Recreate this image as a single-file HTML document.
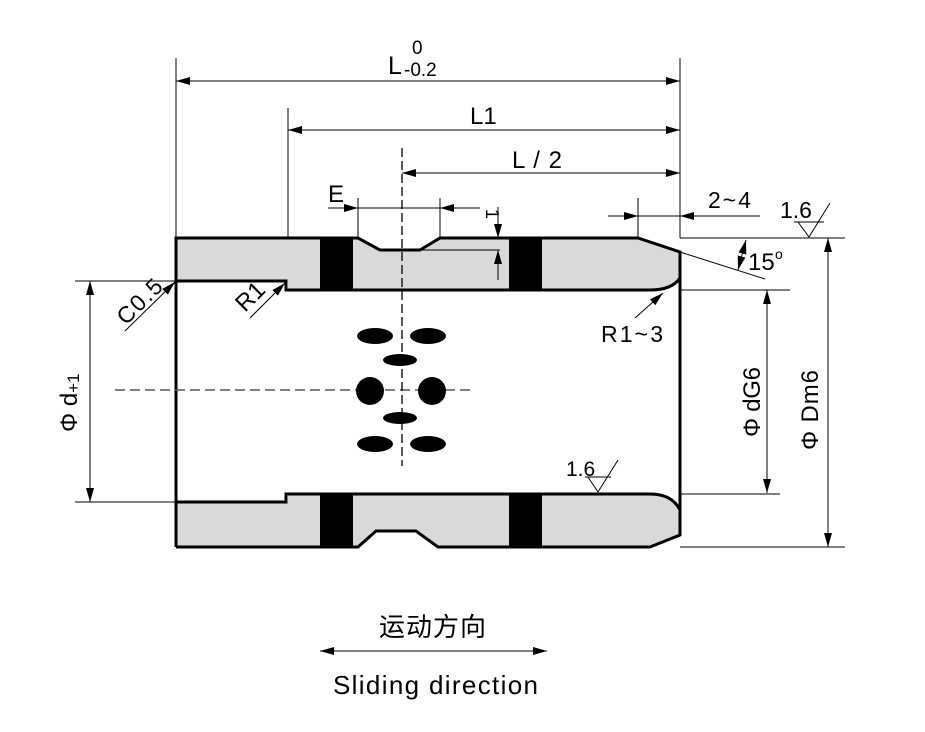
<!DOCTYPE html>
<html><head><meta charset="utf-8"><style>
html,body{margin:0;padding:0;background:#fff;}
svg{display:block;}
text{font-family:"Liberation Sans","Noto Sans CJK SC",sans-serif;fill:#000;}
</style></head><body>
<svg width="925" height="732" viewBox="0 0 925 732" xmlns="http://www.w3.org/2000/svg">
<defs>
<marker id="a" viewBox="0 0 14 8" refX="14" refY="4" markerWidth="14" markerHeight="8" orient="auto-start-reverse" markerUnits="userSpaceOnUse"><path d="M0,0L14,4L0,8z" fill="#000"/></marker>
</defs>
<path d="M176,238 L358,238 L380,250 L420,250 L440,238 L638,238 L680,252 L680,278 Q672,290 650,290 L288,290 L288,281 L176,281 Z" fill="#d9d9d9" stroke="none"/>
<path d="M176,502 L288,502 L288,494 L650,494 Q672,494 680,510 L680,535 L650,547 L438,547 L416,531 L376,531 L358,547 L176,547 Z" fill="#d9d9d9"/>
<rect x="320" y="238" width="33" height="52" fill="#000"/>
<rect x="509" y="238" width="33" height="52" fill="#000"/>
<rect x="320" y="494" width="33" height="53" fill="#000"/>
<rect x="509" y="494" width="33" height="53" fill="#000"/>
<g fill="none" stroke="#000" stroke-width="3">
<path d="M176,547 L176,238 L358,238 L380,250 L420,250 L440,238 L638,238 L680,252 L680,535 L650,547 L438,547 L416,531 L376,531 L358,547 L176,547"/>
<path d="M176,281 L286,281 L286,290 L650,290 Q672,290 680,278"/>
<path d="M176,502 L286,502 L286,494 L650,494 Q672,494 680,510"/>
</g>
<g stroke="#555" stroke-width="1.5" stroke-dasharray="10,5">
<line x1="115" y1="390" x2="470" y2="390"/>
</g>
<g stroke="#000" stroke-width="1.3" stroke-dasharray="9,4">
<line x1="402" y1="148" x2="402" y2="466"/>
</g>
<g fill="#000">
<ellipse cx="375" cy="336" rx="18" ry="8"/>
<ellipse cx="428" cy="336" rx="18" ry="8"/>
<ellipse cx="400" cy="360" rx="17" ry="6"/>
<ellipse cx="370" cy="391" rx="14" ry="14"/>
<ellipse cx="432" cy="391" rx="14" ry="14"/>
<ellipse cx="400" cy="418" rx="17" ry="6"/>
<ellipse cx="375" cy="444" rx="18" ry="8"/>
<ellipse cx="428" cy="444" rx="18" ry="8"/>
</g>
<g stroke="#000" stroke-width="1" fill="none">
<line x1="176" y1="58" x2="176" y2="238"/>
<line x1="680" y1="58" x2="680" y2="238"/>
<line x1="288" y1="108" x2="288" y2="238"/>
<line x1="176" y1="81" x2="680" y2="81" marker-start="url(#a)" marker-end="url(#a)"/>
<line x1="288" y1="130" x2="680" y2="130" marker-start="url(#a)" marker-end="url(#a)"/>
<line x1="402" y1="173" x2="680" y2="173" marker-start="url(#a)" marker-end="url(#a)"/>
<line x1="358" y1="198" x2="358" y2="238"/>
<line x1="440" y1="198" x2="440" y2="238"/>
<line x1="328" y1="208" x2="358" y2="208" marker-end="url(#a)"/>
<line x1="358" y1="208" x2="440" y2="208"/>
<line x1="480" y1="208" x2="440" y2="208" marker-end="url(#a)"/>
<line x1="420" y1="250" x2="500" y2="250"/>
<line x1="498" y1="207" x2="498" y2="238" marker-end="url(#a)"/>
<line x1="498" y1="280" x2="498" y2="250" marker-end="url(#a)"/>
<line x1="638" y1="198" x2="638" y2="238"/>
<line x1="608" y1="216" x2="638" y2="216" marker-end="url(#a)"/>
<line x1="638" y1="216" x2="680" y2="216"/>
<line x1="760" y1="216" x2="680" y2="216" marker-end="url(#a)"/>
<line x1="680" y1="238" x2="845" y2="238"/>
<line x1="680" y1="252" x2="765" y2="279"/>
<path d="M746,240 L738,270" marker-start="url(#a)" marker-end="url(#a)"/>
<line x1="635" y1="318" x2="663" y2="293" marker-end="url(#a)"/>
<line x1="680" y1="290" x2="790" y2="290"/>
<line x1="680" y1="494" x2="780" y2="494"/>
<line x1="680" y1="547" x2="845" y2="547"/>
<line x1="767" y1="290" x2="767" y2="493" marker-start="url(#a)" marker-end="url(#a)"/>
<line x1="828" y1="238" x2="828" y2="547" marker-start="url(#a)" marker-end="url(#a)"/>
<line x1="75" y1="281" x2="176" y2="281"/>
<line x1="75" y1="502" x2="176" y2="502"/>
<line x1="90" y1="281" x2="90" y2="502" marker-start="url(#a)" marker-end="url(#a)"/>
<line x1="125" y1="331" x2="175" y2="282" marker-end="url(#a)"/>
<line x1="250" y1="318" x2="285" y2="283" marker-end="url(#a)"/>
<path d="M794,222 L824,222 M798,222 L809,237 L830,203"/>
<path d="M585,477 L611,477 M588,477 L598,492 L618,460"/>
<line x1="320" y1="651" x2="547" y2="651" marker-start="url(#a)" marker-end="url(#a)"/>
</g>
<text x="388" y="74" font-size="25">L</text>
<text x="412" y="54" font-size="19">0</text>
<text x="404" y="76" font-size="19">-0.2</text>
<text x="470" y="124" font-size="24">L1</text>
<text x="512" y="168" font-size="24" textLength="50">L / 2</text>
<text x="328" y="202" font-size="24">E</text>
<text x="480" y="215" font-size="18" transform="rotate(90 486 215)">1</text>
<text x="708" y="208" font-size="23" textLength="43">2~4</text>
<text x="780" y="218" font-size="23">1.6</text>
<text x="748" y="270" font-size="24">15</text>
<text x="775" y="259" font-size="14">o</text>
<text x="601" y="342" font-size="23" textLength="62">R1~3</text>
<text x="566" y="476" font-size="21">1.6</text>
<text x="0" y="0" font-size="23" textLength="54" transform="translate(126,326) rotate(-45)">C0.5</text>
<text x="0" y="0" font-size="24" transform="translate(245,313) rotate(-45)">R1</text>
<text x="0" y="0" font-size="24" transform="translate(77,432) rotate(-90)">Φ d<tspan font-size="17" dy="2">+1</tspan></text>
<text x="0" y="0" font-size="24" textLength="70" transform="translate(760,437) rotate(-90)">Φ dG6</text>
<text x="0" y="0" font-size="24" textLength="80" transform="translate(818,450) rotate(-90)">Φ Dm6</text>
<text x="379" y="636" font-size="26" letter-spacing="1">运动方向</text>
<text x="333" y="694" font-size="26" textLength="205">Sliding direction</text>
</svg>
</body></html>
